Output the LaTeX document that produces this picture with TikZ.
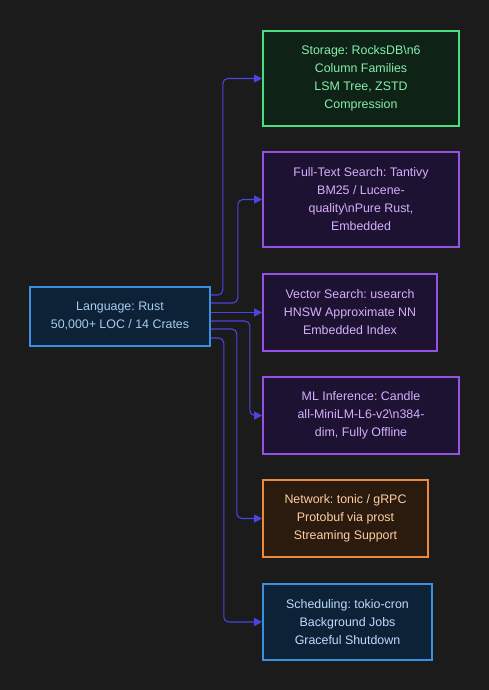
\documentclass[tikz,border=0pt]{standalone}
\usepackage{fontspec}
\setmainfont{Liberation Sans}
\usepackage{tikz}
\usetikzlibrary{arrows.meta, calc}
\frenchspacing

\definecolor{bgdark}{HTML}{1B1B1B}
\definecolor{linkblue}{HTML}{4B44E0}
\definecolor{srcfill}{HTML}{0D2137}
\definecolor{srcdraw}{HTML}{3B8FE0}
\definecolor{srctext}{HTML}{A9CBF0}
\definecolor{grnfill}{HTML}{0F2216}
\definecolor{grndraw}{HTML}{4ADE80}
\definecolor{grntext}{HTML}{86EFAC}
\definecolor{purfill}{HTML}{1E1233}
\definecolor{purdraw}{HTML}{9552E6}
\definecolor{purtext}{HTML}{D4B0FC}
\definecolor{orgfill}{HTML}{2B1A0E}
\definecolor{orgdraw}{HTML}{EE8A3C}
\definecolor{orgtext}{HTML}{FDD0A2}
\definecolor{schtext}{HTML}{BFDBFE}

\begin{document}
\begin{tikzpicture}[x=1pt, y=-1pt,
  every node/.style={font=\fontsize{12.4}{18}\selectfont, align=center, inner sep=0pt},
  box/.style={draw, line width=1.6pt, minimum width=#1},
  link/.style={draw=linkblue, line width=1.1pt, rounded corners=5pt, -{Triangle[length=8pt, width=8pt]}}]
  \fill[bgdark] (0,0) rectangle (489,690);
  \node[box=180pt, minimum height=59pt, fill=srcfill, draw=srcdraw, text=srctext] (src) at (120,316.5) {Language: Rust\\50,000+ LOC / 14 Crates};
  \node[box=196pt, minimum height=95pt, fill=grnfill, draw=grndraw, text=grntext] (storage) at (361,78.5) {Storage: RocksDB\textbackslash n6\\Column Families\\LSM Tree, ZSTD\\Compression};
  \node[box=196pt, minimum height=95pt, fill=purfill, draw=purdraw, text=purtext] (fts) at (361,199.5) {Full-Text Search: Tantivy\\BM25 / Lucene-\\quality\textbackslash nPure Rust,\\Embedded};
  \node[box=174pt, minimum height=77pt, fill=purfill, draw=purdraw, text=purtext] (vec) at (350,312.5) {Vector Search: usearch\\HNSW Approximate NN\\Embedded Index};
  \node[box=196pt, minimum height=77pt, fill=purfill, draw=purdraw, text=purtext] (ml) at (361,415.5) {ML Inference: Candle\\all-MiniLM-L6-v2\textbackslash n384-\\dim, Fully Offline};
  \node[box=165pt, minimum height=77pt, fill=orgfill, draw=orgdraw, text=orgtext] (net) at (345.5,518.5) {Network: tonic / gRPC\\Protobuf via prost\\Streaming Support};
  \node[box=169pt, minimum height=76pt, fill=srcfill, draw=srcdraw, text=schtext] (sched) at (347.5,622) {Scheduling: tokio-cron\\Background Jobs\\Graceful Shutdown};
  \draw[link] ($(src.east)+(0,-21.5)$) -- ++(12,0) |- (storage.west);
  \draw[link] ($(src.east)+(0,-13.5)$) -- ++(27,0) |- (fts.west);
  \draw[link] (src.east |- vec.west) -- (vec.west);
  \draw[link] ($(src.east)+(0,4.5)$) -- ++(39,0) |- (ml.west);
  \draw[link] ($(src.east)+(0,12.5)$) -- ++(26,0) |- (net.west);
  \draw[link] ($(src.east)+(0,21.5)$) -- ++(13,0) |- (sched.west);
\end{tikzpicture}
\end{document}
